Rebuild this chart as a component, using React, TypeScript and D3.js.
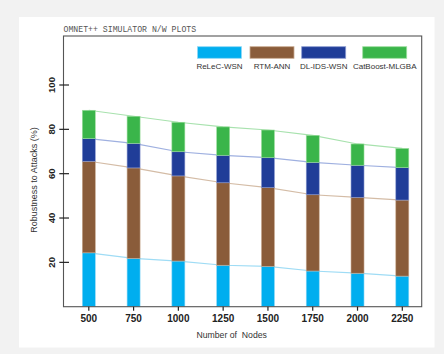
import React from "react";
import * as d3 from "d3";

const nodes = [500, 750, 1000, 1250, 1500, 1750, 2000, 2250];
const seriesNames = ["ReLeC-WSN", "RTM-ANN", "DL-IDS-WSN", "CatBoost-MLGBA"];
const relecWsn = [24.3, 21.8, 20.6, 18.7, 18.2, 16.1, 15.1, 13.8];
const rtmAnn = [41.3, 40.8, 38.4, 37.2, 35.5, 34.4, 34.2, 34.3];
const dlIdsWsn = [10.2, 11.1, 10.9, 12.4, 13.5, 14.6, 14.5, 14.6];
const catBoost = [12.8, 12.2, 13.3, 12.8, 12.5, 12.2, 9.6, 8.7];
const yTicks = [20, 40, 60, 80, 100];

const colors = ["#00aeef", "#8a5c3a", "#203d98", "#3ab54a"];
const lineColors = ["#9fdcf5", "#d4bca6", "#9fb0e0", "#a8e2ae"];
const strokeColors = ["#8fd8f6", "#c9ab92", "#8c9bd0", "#9ede9f"];

const W = 444;
const H = 354;
const frame = { left: 63.5, right: 421.7, top: 36, bottom: 306.7 };

export default function App() {
  const rows = nodes.map((n, i) => ({
    n,
    [seriesNames[0]]: relecWsn[i],
    [seriesNames[1]]: rtmAnn[i],
    [seriesNames[2]]: dlIdsWsn[i],
    [seriesNames[3]]: catBoost[i],
  }));
  const stacked = d3.stack<any>().keys(seriesNames)(rows);

  const x = d3.scaleLinear().domain([500, 2250]).range([88.8, 402.3]);
  const y = d3.scaleLinear().domain([0, 100]).range([frame.bottom, 85]);
  const barW = 13;

  const line = d3
    .line<any>()
    .x((d) => x(d.data.n))
    .y((d) => y(d[1]));

  const legendCenters = [219.5, 272, 323.7, 384.7];
  const font = "'Liberation Sans', Arial, Helvetica, sans-serif";

  return (
    <svg
      width={W}
      height={H}
      viewBox={`0 0 ${W} ${H}`}
      style={{ position: "fixed", left: 0, top: 0, display: "block" }}
    >
      <rect x={0} y={0} width={W} height={H} fill="#f2f2f2" />
      <rect x={19} y={17} width={415.5} height={330.5} fill="#ffffff" />

      <text
        x={63.5}
        y={32}
        fontFamily="'Liberation Mono', 'DejaVu Sans Mono', monospace"
        fontSize={8.2}
        fill="#555"
      >
        OMNET++ SIMULATOR N/W PLOTS
      </text>

      {/* connecting lines */}
      {stacked.map((s, i) => (
        <path
          key={"l" + i}
          d={line(s as any) || ""}
          fill="none"
          stroke={lineColors[i]}
          strokeWidth={1.2}
        />
      ))}

      {/* bars */}
      {stacked.map((s, i) => (
        <g key={"s" + i}>
          {s.map((d: any, j: number) => (
            <rect
              key={j}
              x={x(d.data.n) - barW / 2}
              y={y(d[1])}
              width={barW}
              height={y(d[0]) - y(d[1])}
              fill={colors[i]}
              stroke={strokeColors[i]}
              strokeWidth={0.6}
            />
          ))}
        </g>
      ))}

      {/* frame */}
      <rect
        x={frame.left}
        y={frame.top}
        width={frame.right - frame.left}
        height={frame.bottom - frame.top}
        fill="none"
        stroke="#555"
        strokeWidth={1.1}
      />

      {/* y ticks */}
      {yTicks.map((t) => (
        <g key={"yt" + t}>
          <line x1={59.3} x2={69} y1={y(t)} y2={y(t)} stroke="#222" strokeWidth={1.2} />
          <text
            transform={`translate(51.7,${y(t)}) rotate(-90)`}
            textAnchor="middle"
            dominantBaseline="central"
            fontFamily={font}
            fontWeight="bold"
            fontSize={9.5}
            fill="#222"
          >
            {t}
          </text>
        </g>
      ))}

      {/* x ticks */}
      {nodes.map((n) => (
        <g key={"xt" + n}>
          <line x1={x(n)} x2={x(n)} y1={frame.bottom} y2={frame.bottom + 4} stroke="#222" strokeWidth={1.2} />
          <text
            x={x(n)}
            y={321.8}
            textAnchor="middle"
            fontFamily={font}
            fontWeight="bold"
            fontSize={10}
            fill="#222"
          >
            {n}
          </text>
        </g>
      ))}

      <text
        x={231.7}
        y={337.5}
        textAnchor="middle"
        fontFamily={font}
        fontSize={8.7}
        fill="#333"
        style={{ whiteSpace: "pre" }}
      >
        {"Number of  Nodes"}
      </text>

      <text
        transform={`translate(34,180) rotate(-90)`}
        textAnchor="middle"
        dominantBaseline="central"
        fontFamily={font}
        fontSize={9}
        fill="#333"
      >
        Robustness to Attacks (%)
      </text>

      {/* legend */}
      {seriesNames.map((name, i) => (
        <g key={"lg" + i}>
          <rect
            x={legendCenters[i] - 22}
            y={46.7}
            width={44}
            height={11.6}
            fill={colors[i]}
            stroke={strokeColors[i]}
            strokeWidth={0.8}
          />
          <text
            x={legendCenters[i]}
            y={69}
            textAnchor="middle"
            fontFamily={font}
            fontSize={8}
            fill="#333"
          >
            {name}
          </text>
        </g>
      ))}
    </svg>
  );
}
